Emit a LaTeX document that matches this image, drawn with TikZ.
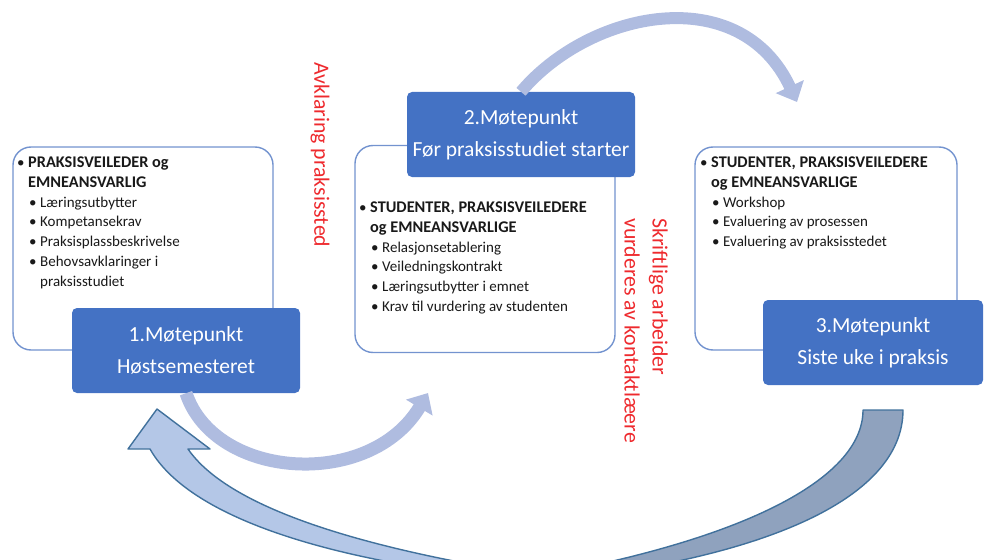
\documentclass[tikz,border=0pt]{standalone}
\usepackage{fontspec}
\setmainfont{Carlito}
\usetikzlibrary{arrows.meta, positioning, calc}

\definecolor{meetblue}{HTML}{4472C4}
\definecolor{frameblue}{HTML}{7393CF}
\definecolor{arcblue}{HTML}{AFBCE0}
\definecolor{lightarrow}{HTML}{B4C7E7}
\definecolor{grayarrow}{HTML}{8FA2BE}
\definecolor{edgeblue}{HTML}{41719C}
\definecolor{notered}{HTML}{EE2A2E}

\newcommand{\bul}{\makebox[11pt][l]{\textbullet}}
\newcommand{\hd}[1]{{\fontsize{16.3}{19.7}\selectfont\bfseries #1}}

\begin{document}
\begin{tikzpicture}[x=1pt, y=-1pt,
    frame/.style={draw=frameblue, line width=1.4pt, rounded corners=18pt, fill=white, inner sep=0pt},
    meet/.style={fill=meetblue, rounded corners=5pt, text=white, align=center, minimum width=228, minimum height=85, inner sep=0pt, font=\fontsize{21.5}{32}\selectfont},
    list/.style={anchor=north west, align=left, inner sep=0pt, text=black!90, font=\fontsize{15}{19.7}\selectfont},
    note/.style={text=notered, rotate=-90, anchor=west, align=left, inner sep=0pt, font=\fontsize{21.8}{28}\selectfont},
    arcline/.style={draw=arcblue, line width=12pt, -{Triangle[length=17pt, width=30pt]}},
    block/.style={draw=edgeblue, line width=1.4pt, line join=round}
]
    \useasboundingbox (0,0) rectangle (984,559);
    \clip (0,0) rectangle (984,559);

    \node[frame, minimum width=260, minimum height=203] (f1) at (143,248.5) {};
    \node[frame, minimum width=260, minimum height=207] (f2) at (485,249) {};
    \node[frame, minimum width=262, minimum height=203] (f3) at (826,248.5) {};

    \node[list] (l1) at (17,157) {\bul\hd{PRAKSISVEILEDER og}\\
        \hspace*{11pt}\hd{EMNEANSVARLIG}\\
        \hspace*{12pt}\bul Læringsutbytter\\
        \hspace*{12pt}\bul Kompetansekrav\\
        \hspace*{12pt}\bul Praksisplassbeskrivelse\\
        \hspace*{12pt}\bul Behovsavklaringer i\\
        \hspace*{23pt}praksisstudiet};
    \node[list] (l2) at (359,202) {\bul\hd{STUDENTER, PRAKSISVEILEDERE}\\
        \hspace*{11pt}\hd{og EMNEANSVARLIGE}\\
        \hspace*{12pt}\bul Relasjonsetablering\\
        \hspace*{12pt}\bul Veiledningskontrakt\\
        \hspace*{12pt}\bul Læringsutbytter i emnet\\
        \hspace*{12pt}\bul Krav til vurdering av studenten};
    \node[list] (l3) at (700,157) {\bul\hd{STUDENTER, PRAKSISVEILEDERE}\\
        \hspace*{11pt}\hd{og EMNEANSVARLIGE}\\
        \hspace*{12pt}\bul Workshop\\
        \hspace*{12pt}\bul Evaluering av prosessen\\
        \hspace*{12pt}\bul Evaluering av praksisstedet};

    \node[meet] (m1) at (186,350.5) {1.Møtepunkt\\Høstsemesteret};
    \node[meet] (m2) at (521,134.5) {2.Møtepunkt\\Før praksisstudiet starter};
    \node[meet, minimum width=220] (m3) at (873,342.5) {3.Møtepunkt\\Siste uke i praksis};

    \node[note] (n1) at (320,62) {Avklaring praksissted};
    \node[note] (n2) at (646,218) {Skriftlige arbeider\\vurderes av kontaktlæere};

    \coordinate (t2) at (428,393);
    \coordinate (t3) at (797,102);
    \draw[arcline] (m2.north) .. controls (590,10) and (740,-20) .. (t3);
    \draw[arcline, line width=13pt] (m1.south) .. controls (215,480) and (370,490) .. (t2);

    \draw[block, fill=grayarrow] (863,410) -- (903,410)
        .. controls (903,500) and (760,560) .. (540,582) -- (540,576)
        .. controls (740,540) and (863,480) .. (863,410) -- cycle;
    \draw[block, fill=lightarrow] (157,409) -- (210,449) -- (188,449)
        .. controls (230,510) and (370,550) .. (540,576) -- (540,582)
        .. controls (340,565) and (190,520) .. (150,449) -- (128,449) -- cycle;
\end{tikzpicture}
\end{document}
